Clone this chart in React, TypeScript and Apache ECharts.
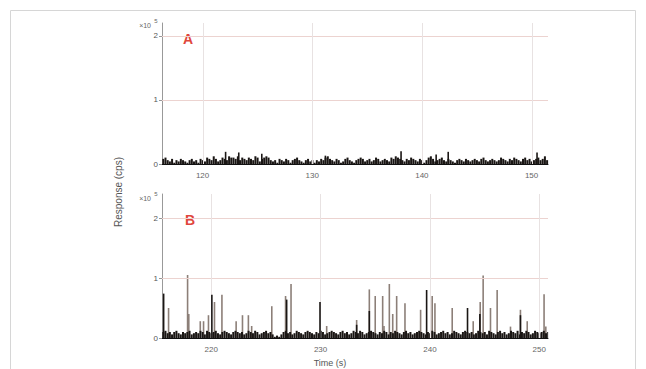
import React, { useEffect, useRef } from "react";
import * as echarts from "echarts";

// Panel A: time-scan 116.3 - 151.5 s
const A_X_MIN = 116.3;
const A_X_MAX = 151.5;
const A_TICKS = [120, 130, 140, 150];
const A_BASE_START = 116.4;
const A_BASE_STEP = 0.2;
const A_BASELINE = [
  0.08, 0.1, 0.06, 0.04, 0.08, 0.02, 0.06, 0.04, 0.08, 0.06,
  0.04, 0.02, 0.06, 0.08, 0.04, 0.06, 0.02, 0.08, 0.06, 0.04,
  0.1, 0.08, 0.06, 0.12, 0.08, 0.04, 0.06, 0.1, 0.08, 0.06,
  0.12, 0.1, 0.1, 0.08, 0.12, 0.06, 0.1, 0.08, 0.06, 0.1,
  0.08, 0.06, 0.12, 0.1, 0.04, 0.08, 0.1, 0.12, 0.1, 0.06,
  0.04, 0.06, 0.02, 0.08, 0.06, 0.04, 0.08, 0.06, 0.02, 0.06,
  0.08, 0.1, 0.06, 0.04, 0.02, 0.06, 0.08, 0.04, 0.06, 0.02,
  0.06, 0.04, 0.08, 0.06, 0.1, 0.12, 0.08, 0.06, 0.04, 0.08,
  0.06, 0.02, 0.04, 0.08, 0.1, 0.06, 0.04, 0.02, 0.06, 0.08,
  0.1, 0.08, 0.04, 0.06, 0.08, 0.04, 0.06, 0.1, 0.08, 0.04,
  0.06, 0.08, 0.06, 0.04, 0.1, 0.08, 0.12, 0.1, 0.08, 0.06,
  0.04, 0.08, 0.06, 0.1, 0.08, 0.06, 0.04, 0.08, 0.06, 0.02,
  0.06, 0.1, 0.12, 0.08, 0.04, 0.06, 0.08, 0.1, 0.06, 0.04,
  0.08, 0.06, 0.04, 0.02, 0.06, 0.08, 0.06, 0.04, 0.08, 0.06,
  0.04, 0.06, 0.08, 0.06, 0.04, 0.08, 0.1, 0.06, 0.04, 0.06,
  0.08, 0.06, 0.04, 0.06, 0.1, 0.08, 0.06, 0.04, 0.08, 0.06,
  0.1, 0.08, 0.06, 0.04, 0.08, 0.1, 0.06, 0.08, 0.04, 0.06,
  0.08, 0.1, 0.06, 0.08, 0.12, 0.06,
];
const A_SPIKES: [number, number][] = [
  [122.1, 0.19], [123.3, 0.18], [125.4, 0.16], [131.2, 0.13],
  [138.1, 0.2], [141.3, 0.15], [142.4, 0.19], [150.5, 0.18],
];

// Panel B: time-scan 215.5 - 250.8 s
const B_X_MIN = 215.5;
const B_X_MAX = 250.8;
const B_TICKS = [220, 230, 240, 250];
const B_BASE_START = 215.6;
const B_BASE_STEP = 0.2;
const B_BASELINE = [
  0.1, 0.12, 0.08, 0.1, 0.06, 0.1, 0.12, 0.08, 0.06, 0.1,
  0.08, 0.1, 0.12, 0.06, 0.08, 0.1, 0.08, 0.12, 0.1, 0.06,
  0.12, 0.1, 0.08, 0.1, 0.12, 0.08, 0.06, 0.1, 0.12, 0.1,
  0.08, 0.06, 0.1, 0.12, 0.1, 0.08, 0.1, 0.06, 0.08, 0.12,
  0.1, 0.08, 0.12, 0.1, 0.06, 0.08, 0.1, 0.12, 0.08, 0.1,
  0.06, 0.02, 0.04, 0.02, 0.06, 0.1, 0.12, 0.08, 0.1, 0.06,
  0.08, 0.12, 0.1, 0.08, 0.06, 0.1, 0.12, 0.1, 0.08, 0.06,
  0.1, 0.08, 0.12, 0.1, 0.06, 0.08, 0.1, 0.12, 0.1, 0.08,
  0.06, 0.1, 0.12, 0.08, 0.1, 0.06, 0.08, 0.12, 0.1, 0.08,
  0.12, 0.1, 0.06, 0.08, 0.1, 0.12, 0.1, 0.08, 0.06, 0.1,
  0.08, 0.12, 0.1, 0.06, 0.1, 0.08, 0.12, 0.1, 0.08, 0.06,
  0.1, 0.12, 0.08, 0.1, 0.06, 0.08, 0.1, 0.12, 0.1, 0.08,
  0.06, 0.1, 0.08, 0.12, 0.1, 0.06, 0.08, 0.1, 0.12, 0.08,
  0.1, 0.06, 0.08, 0.12, 0.1, 0.08, 0.06, 0.1, 0.12, 0.1,
  0.08, 0.1, 0.06, 0.08, 0.12, 0.1, 0.08, 0.1, 0.06, 0.12,
  0.1, 0.08, 0.06, 0.1, 0.12, 0.08, 0.1, 0.06, 0.08, 0.12,
  0.1, 0.08, 0.12, 0.06, 0.1, 0.08, 0.12, 0.1, 0.06, 0.08,
  0.12, 0.1, 0.08, 0.1, 0.12, 0.08, 0.1,
];
const B_SPIKES_LIGHT: [number, number][] = [
  [216.1, 0.5], [217.84, 1.05], [217.95, 0.4], [219.0, 0.28], [219.3, 0.28],
  [219.75, 0.38], [220.3, 0.6], [220.98, 0.72], [222.28, 0.28], [222.86, 0.38],
  [223.4, 0.38], [223.7, 0.2], [225.54, 0.53], [226.8, 0.7], [227.3, 0.9],
  [230.56, 0.2], [233.3, 0.3], [234.46, 0.81], [235.0, 0.7], [235.68, 0.7],
  [235.8, 0.2], [236.29, 0.9], [236.6, 0.4], [236.96, 0.7], [237.72, 0.58],
  [239.15, 0.47], [240.21, 0.7], [240.46, 0.58], [242.04, 0.5], [243.96, 0.28],
  [244.6, 0.6], [244.87, 1.04], [245.54, 0.5], [246.15, 0.8], [247.37, 0.19],
  [248.28, 0.47], [248.9, 0.28], [250.44, 0.73], [250.6, 0.19],
];
const B_SPIKES_DARK: [number, number][] = [
  [215.65, 0.74], [220.06, 0.72], [226.9, 0.64], [229.95, 0.6],
  [233.3, 0.22], [234.46, 0.45], [239.7, 0.8], [243.44, 0.5],
  [244.57, 0.4], [248.28, 0.38],
];

const Y_TICKS = [0, 1, 2];
const A_Y_MAX = 2.2;
const B_Y_MAX = 2.4;

const FONT = "'Liberation Sans', Arial, sans-serif";
const DARK = "#1a1614";
const LIGHT = "#8c7f78";
const GRID_H = "#ecd3d0";
const GRID_V = "#e8e2e2";

function baseData(start: number, step: number, vals: number[]) {
  return vals.map((v, i) => [+(start + i * step).toFixed(2), v]);
}

function gridMarks(ticks: number[]) {
  return {
    silent: true,
    symbol: "none",
    label: { show: false },
    data: [
      ...Y_TICKS.filter((t) => t > 0).map((t) => ({
        yAxis: t,
        lineStyle: { color: GRID_H, width: 1, type: "solid" },
      })),
      ...ticks.map((t) => ({
        xAxis: t,
        lineStyle: { color: GRID_V, width: 1, type: "solid" },
      })),
    ],
  };
}

export default function App() {
  const ref = useRef<HTMLDivElement>(null);
  useEffect(() => {
    if (!ref.current) return;
    const chart = echarts.init(ref.current, undefined, { renderer: "svg" });
    const xAxisCommon = {
      type: "value",
      splitLine: { show: false },
      axisTick: { show: false },
      axisLine: { show: true, lineStyle: { color: "#111", width: 1 } },
      axisLabel: {
        color: "#666",
        fontSize: 8,
        fontFamily: FONT,
        margin: 7,
        showMinLabel: false,
        showMaxLabel: false,
      },
    };
    const yAxisCommon = {
      type: "value",
      min: 0,
      interval: 1,
      splitLine: { show: false },
      axisTick: { show: true, length: 3, lineStyle: { color: "#999" } },
      axisLine: { show: true, lineStyle: { color: "#999", width: 1 } },
      axisLabel: {
        color: "#555",
        fontSize: 8,
        fontFamily: FONT,
        margin: 4,
        showMaxLabel: false,
      },
    };
    const barCommon = {
      type: "bar",
      barWidth: 1.6,
      barGap: "-100%",
      large: false,
    };
    chart.setOption({
      animation: false,
      backgroundColor: "#fff",
      grid: [
        { left: 162, right: 98, top: 23, height: 141 },
        { left: 162, right: 98, top: 194, height: 144 },
      ],
      xAxis: [
        { ...xAxisCommon, gridIndex: 0, min: A_X_MIN, max: A_X_MAX, splitNumber: 4 },
        { ...xAxisCommon, gridIndex: 1, min: B_X_MIN, max: B_X_MAX, splitNumber: 4 },
      ],
      yAxis: [
        { ...yAxisCommon, gridIndex: 0, max: A_Y_MAX },
        { ...yAxisCommon, gridIndex: 1, max: B_Y_MAX },
      ],
      series: [
        {
          ...barCommon,
          barWidth: 2,
          xAxisIndex: 0,
          yAxisIndex: 0,
          itemStyle: { color: DARK },
          data: baseData(A_BASE_START, A_BASE_STEP, A_BASELINE),
          markLine: gridMarks(A_TICKS),
          z: 3,
        },
        {
          ...barCommon,
          xAxisIndex: 0,
          yAxisIndex: 0,
          itemStyle: { color: DARK },
          data: A_SPIKES,
          z: 4,
        },
        {
          ...barCommon,
          xAxisIndex: 1,
          yAxisIndex: 1,
          itemStyle: { color: LIGHT },
          data: B_SPIKES_LIGHT,
          markLine: gridMarks(B_TICKS),
          z: 3,
        },
        {
          ...barCommon,
          barWidth: 2,
          xAxisIndex: 1,
          yAxisIndex: 1,
          itemStyle: { color: DARK },
          data: baseData(B_BASE_START, B_BASE_STEP, B_BASELINE),
          z: 4,
        },
        {
          ...barCommon,
          xAxisIndex: 1,
          yAxisIndex: 1,
          itemStyle: { color: DARK },
          data: B_SPIKES_DARK,
          z: 5,
        },
      ],
      graphic: [
        {
          type: "rect",
          shape: { x: 10.5, y: 10.5, width: 625, height: 380 },
          style: { fill: "none", stroke: "#d6d6d6", lineWidth: 1 },
          silent: true,
          z: -1,
        },
        {
          type: "text",
          x: 188,
          y: 39,
          style: { text: "A", fill: "#e0463c", font: `bold 14px ${FONT}`, textAlign: "center", textVerticalAlign: "middle" },
        },
        {
          type: "text",
          x: 190,
          y: 220,
          style: { text: "B", fill: "#e0463c", font: `bold 14px ${FONT}`, textAlign: "center", textVerticalAlign: "middle" },
        },
        {
          type: "text",
          x: 151,
          y: 25,
          style: { text: "×10", fill: "#666", font: `7px ${FONT}`, textAlign: "right", textVerticalAlign: "middle" },
        },
        {
          type: "text",
          x: 156,
          y: 21,
          style: { text: "5", fill: "#666", font: `6px ${FONT}`, textAlign: "center", textVerticalAlign: "middle" },
        },
        {
          type: "text",
          x: 151,
          y: 198,
          style: { text: "×10", fill: "#666", font: `7px ${FONT}`, textAlign: "right", textVerticalAlign: "middle" },
        },
        {
          type: "text",
          x: 156,
          y: 194,
          style: { text: "5", fill: "#666", font: `6px ${FONT}`, textAlign: "center", textVerticalAlign: "middle" },
        },
        {
          type: "text",
          x: 118,
          y: 192,
          rotation: Math.PI / 2,
          style: { text: "Response (cps)", fill: "#555", font: `10px ${FONT}`, textAlign: "center", textVerticalAlign: "middle" },
        },
        {
          type: "text",
          x: 330,
          y: 363,
          style: { text: "Time (s)", fill: "#555", font: `9px ${FONT}`, textAlign: "center", textVerticalAlign: "middle" },
        },
      ],
    });
    return () => chart.dispose();
  }, []);
  return (
    <div
      ref={ref}
      style={{ position: "fixed", left: 0, top: 0, width: 646, height: 369 }}
    />
  );
}
